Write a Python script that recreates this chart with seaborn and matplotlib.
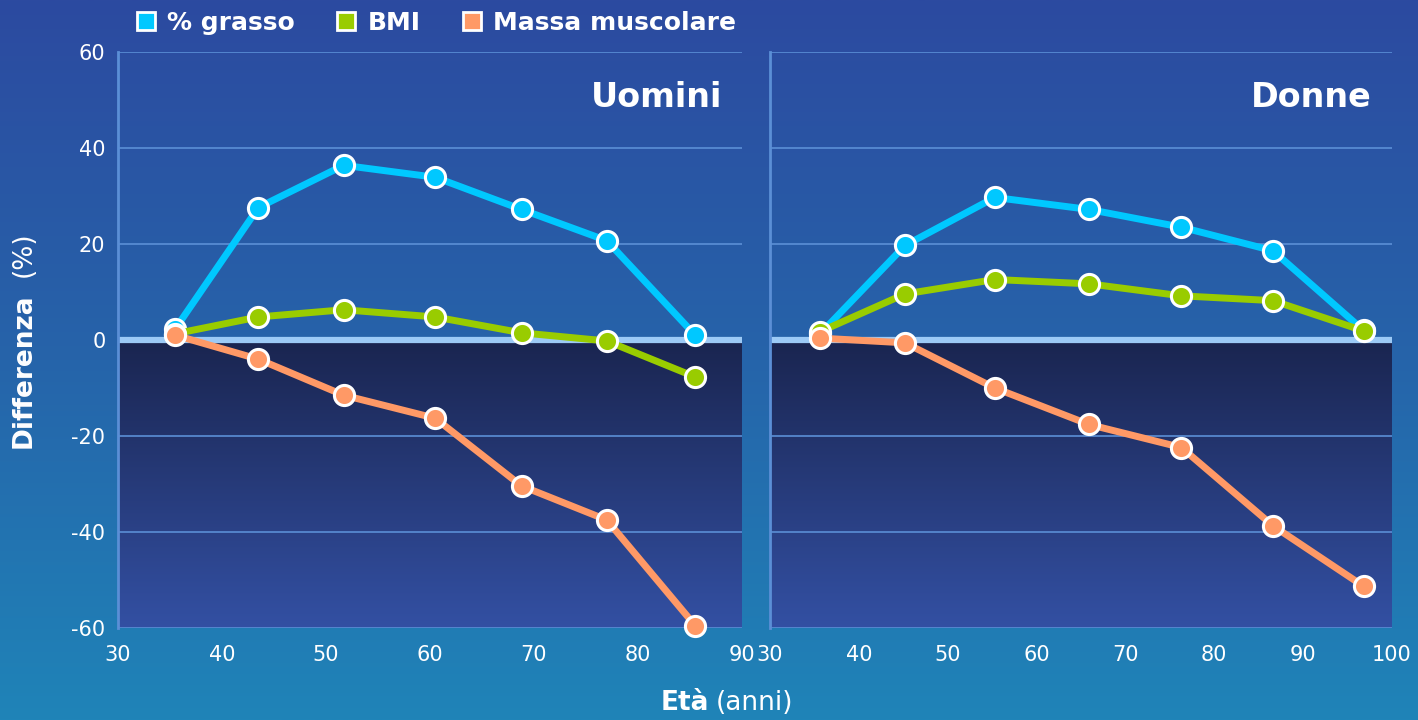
import matplotlib
matplotlib.use("Agg")
import matplotlib.pyplot as plt
import numpy as np
import pandas as pd
import seaborn as sns
from matplotlib.colors import LinearSegmentedColormap
from matplotlib.lines import Line2D

# data
series_names = ["% grasso", "BMI", "Massa muscolare"]
series_colors = ["#00c8ff", "#99cc00", "#ff9966"]

eta_uomini = [35.5, 43.5, 51.7, 60.5, 68.8, 77.0, 85.5]
grasso_uomini = [2.3, 27.6, 36.4, 33.9, 27.2, 20.7, 1.0]
bmi_uomini = [1.3, 4.8, 6.3, 4.8, 1.5, -0.2, -7.7]
massa_uomini = [1.0, -4.0, -11.5, -16.3, -30.4, -37.5, -59.5]

eta_donne = [35.6, 45.2, 55.3, 65.9, 76.3, 86.6, 96.8]
grasso_donne = [1.2, 19.7, 29.7, 27.2, 23.5, 18.6, 2.0]
bmi_donne = [1.7, 9.6, 12.6, 11.7, 9.2, 8.2, 1.9]
massa_donne = [0.4, -0.6, -10.0, -17.6, -22.4, -38.7, -51.3]

y_ticks = [-60, -40, -20, 0, 20, 40, 60]
x_ticks_uomini = [30, 40, 50, 60, 70, 80, 90]
x_ticks_donne = [30, 40, 50, 60, 70, 80, 90, 100]

sns.set_style("white")
plt.rcParams["font.family"] = ["DejaVu Sans"]
plt.rcParams["axes.unicode_minus"] = False

W, H = 1418, 720
fig = plt.figure(figsize=(W / 100, H / 100), dpi=100)

# background gradient over the whole figure
bg = fig.add_axes([0, 0, 1, 1], zorder=-10)
bg_cmap = LinearSegmentedColormap.from_list("bg", ["#2c4aa0", "#2664aa", "#1f84b8"])
bg.imshow(np.linspace(0, 1, 256).reshape(-1, 1), aspect="auto", cmap=bg_cmap,
          extent=[0, 1, 0, 1], origin="upper")
bg.axis("off")

dark_cmap = LinearSegmentedColormap.from_list("dark", ["#1a2550", "#3350a3"])


def panel(rect, ages, grasso, bmi, massa, xlim, xticks, title, show_y):
    ax = fig.add_axes(rect)
    ax.set_facecolor("none")
    # dark region below zero
    ax.imshow(np.linspace(0, 1, 256).reshape(-1, 1), aspect="auto", cmap=dark_cmap,
              extent=[xlim[0], xlim[1], -60, 0], origin="upper", zorder=0)
    ax.axhline(0, color="#9ccaf6", lw=4.5, zorder=1)

    for vals, col in zip([grasso, bmi, massa], series_colors):
        df = pd.DataFrame({"eta": ages, "val": vals})
        sns.lineplot(data=df, x="eta", y="val", ax=ax, color=col, lw=5,
                     marker="o", markersize=14.5, markeredgecolor="white",
                     markeredgewidth=2.2, clip_on=False, zorder=3)

    ax.set_xlim(*xlim)
    ax.set_ylim(-60, 60)
    ax.set_xticks(xticks)
    ax.set_yticks(y_ticks)
    ax.grid(axis="y", color="#5b8fd6", lw=1.2, zorder=0.5)
    ax.grid(axis="x", visible=False)
    for s in ["top", "right", "bottom"]:
        ax.spines[s].set_visible(False)
    ax.spines["left"].set_color("#5b8fd6")
    ax.spines["left"].set_linewidth(2)
    ax.tick_params(length=0, labelcolor="white", labelsize=15)
    ax.tick_params(axis="y", pad=9)
    ax.tick_params(axis="x", pad=12)
    if not show_y:
        ax.set_yticklabels([])
    ax.set_xlabel("")
    ax.set_ylabel("")
    ax.text(0.968, 0.95, title, transform=ax.transAxes, ha="right", va="top",
            fontsize=24, weight="bold", color="white")
    return ax


bottom = 1 - 628 / H
height = 576 / H
panel([118 / W, bottom, 624 / W, height], eta_uomini, grasso_uomini, bmi_uomini,
      massa_uomini, (30, 90), x_ticks_uomini, "Uomini", True)
panel([770 / W, bottom, 622 / W, height], eta_donne, grasso_donne, bmi_donne,
      massa_donne, (30, 100), x_ticks_donne, "Donne", False)

# axis labels, bold word followed by normal unit
fig.text(709 / W, 1 - 703 / H, "Età", ha="right", va="center", fontsize=19,
         weight="bold", color="white")
fig.text(716 / W, 1 - 703 / H, "(anni)", ha="left", va="center", fontsize=19,
         color="white")
fig.text(24 / W, 1 - 371 / H, "Differenza", ha="center", va="center", fontsize=19,
         weight="bold", color="white", rotation=90)
fig.text(24 / W, 1 - 254 / H, "(%)", ha="center", va="center", fontsize=19,
         color="white", rotation=90)

handles = [Line2D([], [], ls="none", marker="s", markersize=13, markerfacecolor=c,
                  markeredgecolor="white", markeredgewidth=2) for c in series_colors]
leg = fig.legend(handles, series_names, loc="upper left", bbox_to_anchor=(136 / W, 1 - 11 / H),
                 ncol=3, frameon=False, handlelength=0.8, handletextpad=0.45,
                 columnspacing=1.65, borderpad=0, borderaxespad=0,
                 prop={"size": 18, "weight": "bold"})
for t in leg.get_texts():
    t.set_color("white")

fig.savefig("out.png", dpi=100)
